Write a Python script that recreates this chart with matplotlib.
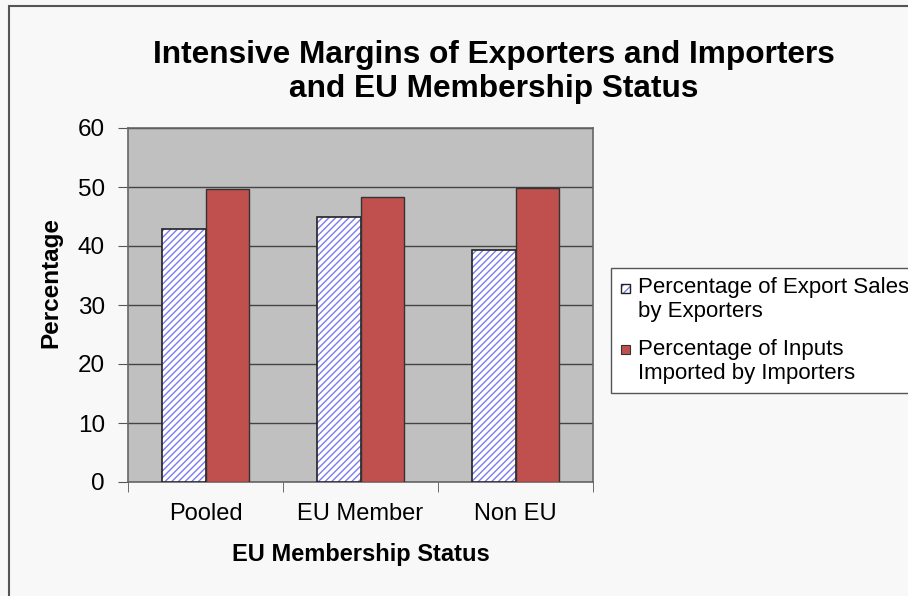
import matplotlib.pyplot as plt
import numpy as np
from matplotlib.patches import Rectangle

plt.rcParams['font.family'] = ['Liberation Sans', 'DejaVu Sans']

categories = ['Pooled', 'EU Member', 'Non EU']
export_sales = [42.9, 45.0, 39.4]
imported_inputs = [49.6, 48.3, 49.9]
series_labels = [['Percentage of Export Sales', 'by Exporters'],
                 ['Percentage of Inputs', 'Imported by Importers']]

W, H = 908, 596
bg = '#f8f8f8'
fig = plt.figure(figsize=(W / 100, H / 100), dpi=100, facecolor=bg)
ax = fig.add_axes([128 / W, 1 - 482 / H, (593 - 128) / W, (482 - 128) / H])
ax.set_facecolor('#c0c0c0')

x = np.arange(len(categories))
w = 0.28
hatch_col = '#7b7bf0'
# hatched fill first, then black outline on top
ax.bar(x - w / 2, export_sales, w, color='white', edgecolor=hatch_col,
       hatch='/////', linewidth=0, zorder=3)
ax.bar(x - w / 2, export_sales, w, fill=False, edgecolor='#222222',
       linewidth=1.2, zorder=4)
ax.bar(x + w / 2, imported_inputs, w, color='#c0504d', edgecolor='#333333',
       linewidth=1.0, zorder=4)

ax.set_xlim(-0.5, 2.5)
ax.set_ylim(0, 60)
ax.set_yticks(range(0, 61, 10))
ax.set_xticks(x)
ax.set_xticklabels(categories, fontsize=17)
ax.set_xticks([-0.5, 0.5, 1.5, 2.5], minor=True)
ax.tick_params(axis='x', which='major', length=0, pad=15)
ax.tick_params(axis='x', which='minor', length=7, direction='out', color='#555555')
ax.tick_params(axis='y', labelsize=17.5, length=7, direction='out', color='#555555', pad=9.5)
ax.yaxis.grid(True, color='#444444', linewidth=1.0, zorder=1)
ax.set_axisbelow(True)
for s in ax.spines.values():
    s.set_color('#666666')
    s.set_linewidth(1.2)

ax.set_xlabel('EU Membership Status', fontsize=17, fontweight='bold', labelpad=13)
ax.set_ylabel('Percentage', fontsize=17.5, fontweight='bold')
ax.yaxis.set_label_coords(-0.142, (482 - 282) / 354)

fig.text(494 / W, 1 - 72 / H, 'Intensive Margins of Exporters and Importers\nand EU Membership Status',
         ha='center', va='center', fontsize=22.8, fontweight='bold', linespacing=1.2)

# legend, drawn by hand so the swatches line up with the first text line
fig.patches.append(Rectangle((611 / W, 1 - 393 / H), 0.5, 125 / H, transform=fig.transFigure,
                             facecolor='white', edgecolor='#555555', linewidth=1.0))
line_y = [(288, 312), (349, 374)]
swatch = [dict(facecolor='white', edgecolor=hatch_col, hatch='////', linewidth=0),
          dict(facecolor='#c0504d', edgecolor='#333333', linewidth=0.8)]
for lab, ys, sw in zip(series_labels, line_y, swatch):
    fig.patches.append(Rectangle((621 / W, 1 - (ys[0] + 5) / H), 9 / W, 9 / H,
                                 transform=fig.transFigure, **sw))
    if sw.get('hatch'):
        fig.patches.append(Rectangle((621 / W, 1 - (ys[0] + 5) / H), 9 / W, 9 / H,
                                     transform=fig.transFigure, fill=False,
                                     edgecolor='#222222', linewidth=1.0))
    for txt, y in zip(lab, ys):
        fig.text(638 / W, 1 - y / H, txt, ha='left', va='center', fontsize=16)

# outer chart frame
fig.patches.append(Rectangle((9 / W, -0.1), 1.2, 1 - 6 / H + 0.1, transform=fig.transFigure,
                             fill=False, edgecolor='#555555', linewidth=1.5))

fig.savefig('out.png', dpi=100, facecolor=bg)
